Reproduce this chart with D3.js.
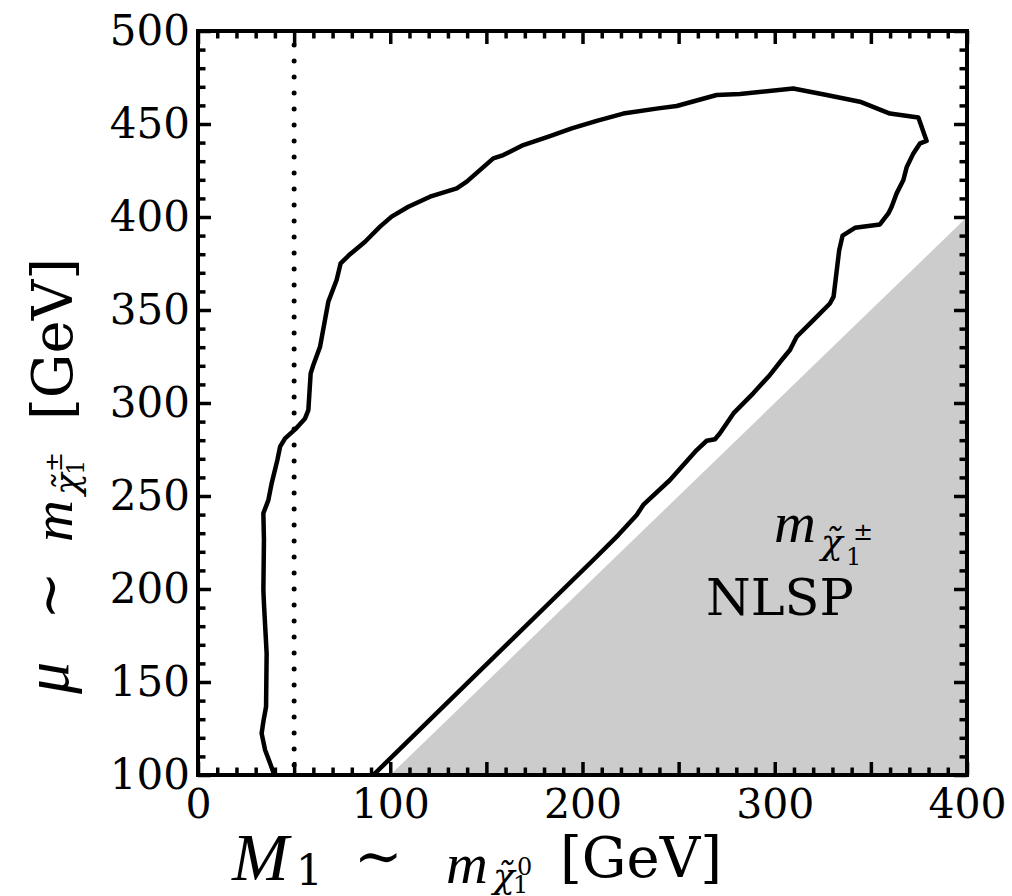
<!DOCTYPE html>
<html><head><meta charset="utf-8">
<script src="https://cdn.jsdelivr.net/npm/d3@7"></script>
<style>body{margin:0;background:#fff}svg{display:block}</style>
</head><body>
<script>
// ---- data ----
const xDomain = [0, 400];
const yDomain = [100, 500];
const xMajorTicks = [0, 50, 100, 150, 200, 250, 300, 350, 400];
const xTickLabels = [0, 100, 200, 300, 400];
const yMajorTicks = [100, 150, 200, 250, 300, 350, 400, 450, 500];
const yTickLabels = [100, 150, 200, 250, 300, 350, 400, 450, 500];
const minorStep = 10;
// contour (M1, mu)
const contourM1 = [39.7,37.5,34.9,33.1,34.0,35.4,35.7,34.3,34.0,34.3,34.0,36.6,38.3,41.3,42.7,45.3,50.5,55.7,57.4,58.6,60.0,63.5,67.8,72.1,74.2,79.1,86.9,94.7,100.7,109.4,120.7,134.6,139.8,153.6,158.8,169.2,183.1,194.4,207.4,221.2,239.4,249.0,269.8,281.9,309.6,327.0,344.3,359.9,374.7,379.0,375.6,372.1,368.6,366.9,363.4,360.8,359.1,354.7,341.7,335.3,333.5,330.6,328.7,320.1,311.4,307.9,303.6,297.5,288.8,278.5,271.5,268.9,264.6,259.4,245.5,231.6,228.2,218.6,205.6,91.2];
const contourMu = [100,106.3,113.4,122.4,128.7,136.7,165.4,192.3,199.5,226.3,240.7,247.8,256.8,269.4,276.5,281.0,285.8,291.7,296.2,315.9,320.4,330.3,354.5,366.1,375.1,380.0,386.7,394.8,400.2,405.5,410.9,415.4,419.0,431.5,433.3,438.7,443.5,447.6,451.7,455.6,458.4,459.7,465.6,466.1,469.1,465.6,462.0,455.6,453.5,440.9,439.6,434.2,426.7,419.9,412.7,405.5,401.9,396.0,394.2,390.0,382.0,357.2,353.5,344.6,335.6,328.5,323.1,315.1,305.2,294.4,283.7,280.5,279.7,274.7,258.6,245.2,239.8,229.0,215.6,100];
// NLSP region (mu < M1)
const nlspM1 = [100, 400, 400];
const nlspMu = [100, 400, 100];
// vertical dotted line
const dottedM1 = 50;

// ---- layout ----
const W = 1012, H = 896;
const L = 198, R = 967, T = 31, B = 775;
const svg = d3.select("body").append("svg").attr("width", W).attr("height", H);
const x = d3.scaleLinear().domain(xDomain).range([L, R]);
const y = d3.scaleLinear().domain(yDomain).range([B, T]);
const serif = "DejaVu Serif";
const mathF = "Liberation Serif";

svg.append("defs").append("clipPath").attr("id","clip")
  .append("rect").attr("x",L).attr("y",T).attr("width",R-L).attr("height",B-T);

const plot = svg.append("g").attr("clip-path","url(#clip)");
plot.append("path")
  .attr("d", d3.line()(nlspM1.map((m,i)=>[x(m), y(nlspMu[i])])) + "Z")
  .attr("fill", "#cccccc");
plot.append("path")
  .attr("d", d3.line().x((d,i)=>x(d)).y((d,i)=>y(contourMu[i]))(contourM1))
  .attr("fill","none").attr("stroke","#000").attr("stroke-width",4.5)
  .attr("stroke-linejoin","round");
plot.append("line")
  .attr("x1", x(dottedM1)).attr("x2", x(dottedM1))
  .attr("y1", y(yDomain[1])).attr("y2", y(yDomain[0]))
  .attr("stroke","#000").attr("stroke-width",5).attr("stroke-linecap","round")
  .attr("stroke-dasharray","0 16").attr("stroke-dashoffset",2);

// ---- axes ----
const minorX = d3.range(xDomain[0], xDomain[1]+1, minorStep).filter(v => !xMajorTicks.includes(v));
const minorY = d3.range(yDomain[0], yDomain[1]+1, minorStep).filter(v => !yMajorTicks.includes(v));
function styleAxis(g){ g.select(".domain").remove(); g.selectAll(".tick line").attr("stroke","#000").attr("stroke-width",3.5); }

svg.append("g").attr("transform",`translate(0,${B})`)
  .call(d3.axisBottom(x).tickValues(xMajorTicks).tickSize(-13).tickPadding(14)
    .tickFormat(d => xTickLabels.includes(d) ? d : ""))
  .call(styleAxis)
  .call(g => g.selectAll("text").attr("font-family",serif).attr("font-size",41).attr("fill","#000"));
svg.append("g").attr("transform",`translate(0,${B})`)
  .call(d3.axisBottom(x).tickValues(minorX).tickSize(-7.5).tickFormat("")).call(styleAxis);
svg.append("g").attr("transform",`translate(0,${T})`)
  .call(d3.axisTop(x).tickValues(xMajorTicks).tickSize(-13).tickFormat("")).call(styleAxis);
svg.append("g").attr("transform",`translate(0,${T})`)
  .call(d3.axisTop(x).tickValues(minorX).tickSize(-7.5).tickFormat("")).call(styleAxis);

svg.append("g").attr("transform",`translate(${L},0)`)
  .call(d3.axisLeft(y).tickValues(yMajorTicks).tickSize(-13).tickPadding(8)
    .tickFormat(d => yTickLabels.includes(d) ? d : ""))
  .call(styleAxis)
  .call(g => g.selectAll("text").attr("font-family",serif).attr("font-size",42).attr("fill","#000"));
svg.append("g").attr("transform",`translate(${L},0)`)
  .call(d3.axisLeft(y).tickValues(minorY).tickSize(-7.5).tickFormat("")).call(styleAxis);
svg.append("g").attr("transform",`translate(${R},0)`)
  .call(d3.axisRight(y).tickValues(yMajorTicks).tickSize(-13).tickFormat("")).call(styleAxis);
svg.append("g").attr("transform",`translate(${R},0)`)
  .call(d3.axisRight(y).tickValues(minorY).tickSize(-7.5).tickFormat("")).call(styleAxis);

svg.append("rect").attr("x",L).attr("y",T).attr("width",R-L).attr("height",B-T)
  .attr("fill","none").attr("stroke","#000").attr("stroke-width",4);

// ---- labels (pieces placed as chunks of one text) ----
function addPieces(t, parts){
  parts.forEach(p => {
    const s = t.append("tspan").text(p.t).attr("x",p.x).attr("y",p.y).attr("font-size",p.fs);
    if (p.it) s.attr("font-style","italic").attr("font-family",p.ff || mathF);
    else if (p.ff) s.attr("font-family",p.ff);
  });
}
function addSim(parent, xx, yy){
  parent.append("text").attr("x",xx).attr("y",yy)
    .attr("font-family","DejaVu Serif").attr("font-size",58)
    .attr("fill","#000").text("∼");
}
// x label
const xl = svg.append("text").attr("font-family",serif).attr("fill","#000");
addPieces(xl, [
  {t:"M", it:true, fs:68, x:232, y:880},
  {t:"1", fs:42, x:296, y:885},
  {t:"m", it:true, fs:58, x:446, y:883},
  {t:"χ̃", it:true, ff:serif, fs:36, x:493, y:888},
  {t:"1", fs:24, x:513, y:893},
  {t:"0", fs:24, x:517, y:875},
  {t:"[GeV]", fs:56, x:560, y:877}
]);
addSim(svg, 354, 876);

// y label (rotated; local x = -screen y)
const ylg = svg.append("g").attr("transform","translate(72,0) rotate(-90)");
const yl = ylg.append("text").attr("font-family",serif).attr("fill","#000");
addPieces(yl, [
  {t:"μ", it:true, fs:64, x:-694, y:-4},
  {t:"m", it:true, fs:58, x:-542, y:0},
  {t:"χ̃", it:true, ff:serif, fs:36, x:-495, y:7},
  {t:"1", fs:24, x:-475, y:12},
  {t:"±", fs:24, x:-472, y:-10},
  {t:"[GeV]", fs:56, x:-420, y:0}
]);
addSim(ylg, -620, -3);

// annotation
const an = svg.append("text").attr("font-family",serif).attr("fill","#000");
addPieces(an, [
  {t:"m", it:true, fs:58, x:774, y:542},
  {t:"χ̃", it:true, ff:serif, fs:36, x:821, y:554},
  {t:"1", fs:24, x:846, y:565},
  {t:"±", fs:24, x:853, y:540}
]);
svg.append("text").attr("x", 706).attr("y", 615).attr("font-family",serif).attr("font-size",51)
  .attr("fill","#000").text("NLSP");
</script>
</body></html>
